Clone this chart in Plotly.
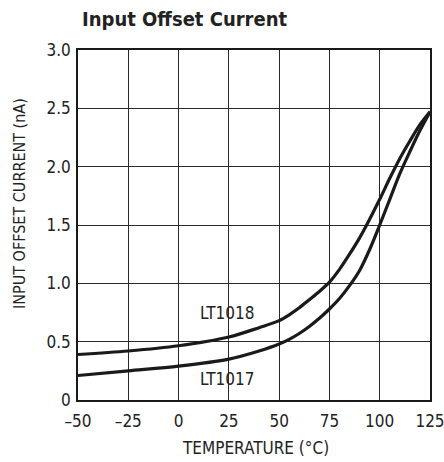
import plotly.graph_objects as go

temp_1018 = [-50, -25, 0, 25, 40, 50, 55, 60, 65, 70, 75, 80, 85, 90, 95, 100, 105, 110, 115, 120, 125]
cur_1018 = [0.39, 0.42, 0.465, 0.54, 0.62, 0.68, 0.73, 0.79, 0.86, 0.93, 1.01, 1.12, 1.25, 1.39, 1.55, 1.72, 1.90, 2.07, 2.22, 2.36, 2.47]

temp_1017 = [-50, -25, 0, 25, 40, 50, 55, 60, 65, 70, 75, 80, 85, 90, 95, 100, 105, 110, 115, 120, 125]
cur_1017 = [0.21, 0.25, 0.29, 0.35, 0.42, 0.48, 0.52, 0.57, 0.63, 0.70, 0.78, 0.87, 0.98, 1.11, 1.29, 1.50, 1.72, 1.94, 2.13, 2.31, 2.47]

x_ticks = [-50, -25, 0, 25, 50, 75, 100, 125]
x_ticktext = ["\u201350", "\u201325", "0", "25", "50", "75", "100", "125"]
y_ticks = [0, 0.5, 1.0, 1.5, 2.0, 2.5, 3.0]
y_ticktext = ["0", "0.5", "1.0", "1.5", "2.0", "2.5", "3.0"]

FONT = "DejaVu Sans Condensed, Liberation Sans Narrow, Roboto, sans-serif"

fig = go.Figure()
for xs, ys in [(temp_1018, cur_1018), (temp_1017, cur_1017)]:
    fig.add_trace(go.Scatter(x=xs, y=ys, mode="lines",
                             line=dict(color="#1a1a1a", width=3.2, shape="spline", smoothing=0.9),
                             showlegend=False, hoverinfo="skip"))

axis_common = dict(showline=True, mirror=True, linecolor="#1a1a1a", linewidth=1.5,
                   showgrid=True, gridcolor="#2a2a2a", gridwidth=1, zeroline=False,
                   automargin=False, ticklabeloverflow="allow",
                   tickfont=dict(family=FONT, size=17, color="#222"))

fig.update_xaxes(range=[-50, 125], tickvals=x_ticks, ticktext=x_ticktext,
                 ticks="outside", ticklen=5, tickcolor="rgba(0,0,0,0)", **axis_common)
fig.update_yaxes(range=[0, 3.0], tickvals=y_ticks, ticktext=y_ticktext,
                 ticks="outside", ticklen=2, tickcolor="rgba(0,0,0,0)", **axis_common)

fig.add_annotation(x=24, y=0.745, xref="x", yref="y", text="LT1018", showarrow=False,
                   font=dict(family=FONT, size=17, color="#222"))
fig.add_annotation(x=24, y=0.18, xref="x", yref="y", text="LT1017", showarrow=False,
                   font=dict(family=FONT, size=17, color="#222"))

fig.add_annotation(x=0.503, y=-0.137, xref="paper", yref="paper", text="TEMPERATURE (°C)",
                   showarrow=False, xanchor="center", yanchor="middle",
                   font=dict(family=FONT, size=17, color="#222"))
fig.add_annotation(x=(20 - 78) / 352, y=(400 - 204) / 350, xref="paper", yref="paper",
                   text="INPUT OFFSET CURRENT (nA)", textangle=-90, showarrow=False,
                   xanchor="center", yanchor="middle",
                   font=dict(family=FONT, size=16, color="#222"))
fig.add_annotation(x=(80 - 78) / 352, y=(400 - 19) / 350, xref="paper", yref="paper",
                   text="<b>Input Offset Current</b>", showarrow=False,
                   xanchor="left", yanchor="middle",
                   font=dict(family=FONT, size=20, color="#222"))

fig.update_layout(width=444, height=462, margin=dict(l=78, r=14, t=50, b=62),
                  plot_bgcolor="white", paper_bgcolor="white")

fig.write_html("out.html", config={"displayModeBar": False},
               post_script="document.body.style.margin='0px';")
